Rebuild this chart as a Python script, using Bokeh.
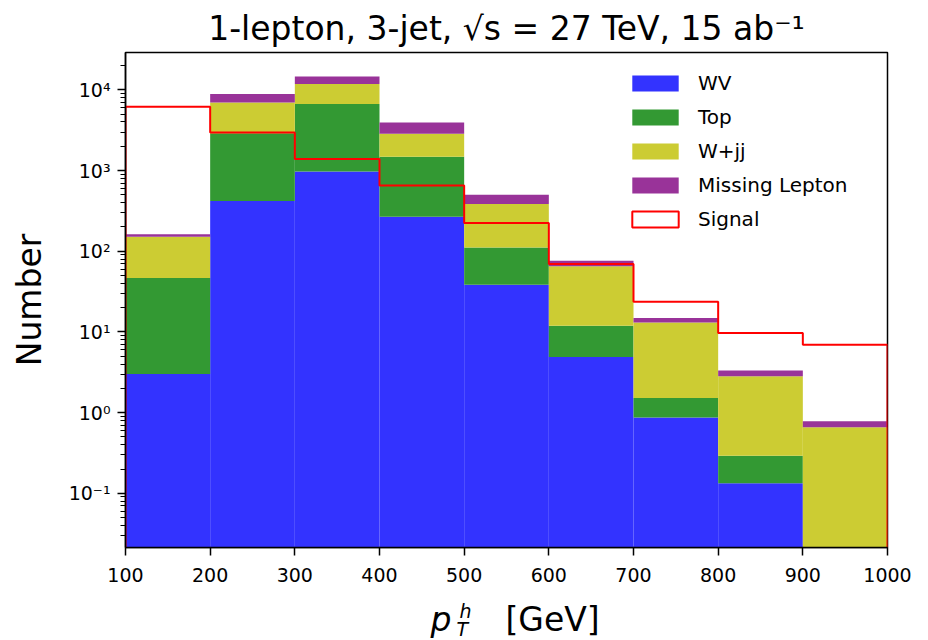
from bokeh.plotting import figure
from bokeh.layouts import column
from bokeh.models import (Range1d, FixedTicker, CustomJSTickFormatter, Label,
                          Legend, LegendItem, ColumnDataSource)
from bokeh.embed import file_html
from bokeh.resources import INLINE

# ---- data ----
bin_edges = [100, 200, 300, 400, 500, 600, 700, 800, 900, 1000]
wv = [3.0, 420, 975, 268, 38.5, 4.9, 0.87, 0.133, 0.0]
top = [43.6, 2480, 5675, 1212, 73, 7.0, 0.65, 0.16, 0.0]
wjj = [104, 4070, 5130, 1376, 272, 53, 11.6, 2.53, 0.658]
missing = [12, 1890, 2870, 1089, 117, 11.4, 1.8, 0.49, 0.122]
signal = [6150, 2960, 1390, 653, 224, 69.4, 23.7, 9.7, 6.95]

series_names = ["WV", "Top", "W+jj", "Missing Lepton"]
series_values = [wv, top, wjj, missing]
series_colors = ["#3333ff", "#339933", "#cccc33", "#993399"]

x_ticks = [100, 200, 300, 400, 500, 600, 700, 800, 900, 1000]
y_ticks = [0.1, 1, 10, 100, 1000, 10000]

Y_MIN, Y_MAX = 0.0213, 2.9e4
FLOOR = 1e-3
FONT = "DejaVu Sans"

p = figure(width=912, height=598, y_axis_type="log",
           x_range=Range1d(100, 1000), y_range=Range1d(Y_MIN, Y_MAX),
           output_backend="svg", toolbar_location=None,
           min_border_left=125, min_border_right=25,
           min_border_top=52, min_border_bottom=51)
p.background_fill_color = "white"
p.border_fill_color = "white"
p.xgrid.visible = False
p.ygrid.visible = False
p.outline_line_color = "black"
p.outline_line_width = 1.5

# title
p.title.text = "1-lepton, 3-jet, \u221as = 27 TeV, 15 ab\u207b\u00b9"
p.title.text_font = FONT
p.title.text_font_size = "33px"
p.title.text_font_style = "normal"
p.title.text_color = "black"
p.title.align = "center"
p.title.standoff = 9

# stacked histogram
cum = [0.0] * len(wv)
items = []
for name, vals, col in zip(series_names, series_values, series_colors):
    new_cum = [c + v for c, v in zip(cum, vals)]
    src = ColumnDataSource(dict(
        left=bin_edges[:-1], right=bin_edges[1:],
        bottom=[max(c, FLOOR) for c in cum],
        top=[max(c, FLOOR) for c in new_cum]))
    r = p.quad(left="left", right="right", bottom="bottom", top="top",
               source=src, fill_color=col, line_color=None)
    items.append(LegendItem(label=name, renderers=[r]))
    cum = new_cum

# signal step outline
sx = [bin_edges[0]]
sy = [FLOOR]
for i, s in enumerate(signal):
    sx += [bin_edges[i], bin_edges[i + 1]]
    sy += [s, s]
sx.append(bin_edges[-1])
sy.append(FLOOR)
p.line(sx, sy, line_color="red", line_width=2)

# zero-size legend proxy for the signal outline (sits below the visible range)
proxy = p.quad(left=[bin_edges[0]], right=[bin_edges[0]], bottom=[FLOOR], top=[FLOOR],
               fill_color="white", line_color="red", line_width=2)
items.append(LegendItem(label="Signal", renderers=[proxy]))

legend = Legend(items=items, location=(501, 316), orientation="vertical",
                padding=0, margin=0, border_line_color=None,
                background_fill_alpha=0, glyph_width=58, glyph_height=20,
                label_height=20, spacing=10, label_standoff=14,
                label_text_font_size="20px", label_text_font=FONT,
                label_text_color="black")
p.add_layout(legend)

# axes
minor = []
for d in range(-2, 5):
    for m in range(2, 10):
        v = m * 10.0 ** d
        if Y_MIN <= v <= Y_MAX:
            minor.append(v)
p.yaxis.ticker = FixedTicker(ticks=y_ticks, minor_ticks=minor)
p.yaxis.formatter = CustomJSTickFormatter(code="""
const sup = {"-": "\u207b", "0": "\u2070", "1": "\u00b9", "2": "\u00b2", "3": "\u00b3",
             "4": "\u2074", "5": "\u2075", "6": "\u2076", "7": "\u2077", "8": "\u2078", "9": "\u2079"};
const e = Math.round(Math.log10(tick));
return "10" + String(e).split("").map(c => sup[c]).join("");
""")
p.xaxis.ticker = FixedTicker(ticks=x_ticks, minor_ticks=[])

for ax in (p.xaxis, p.yaxis):
    ax.axis_line_color = "black"
    ax.axis_line_width = 1.5
    ax.major_tick_line_color = "black"
    ax.major_tick_line_width = 1.5
    ax.minor_tick_line_color = "black"
    ax.minor_tick_line_width = 1.1
    ax.major_tick_in = 0
    ax.major_tick_out = 8
    ax.minor_tick_in = 0
    ax.minor_tick_out = 5
    ax.major_label_text_font = FONT
    ax.major_label_text_font_size = "19px"
    ax.major_label_text_color = "black"

p.xaxis.major_label_standoff = 12
p.yaxis.major_label_standoff = 7
p.yaxis.axis_label = "Number"
p.yaxis.axis_label_text_font = FONT
p.yaxis.axis_label_text_font_size = "33px"
p.yaxis.axis_label_text_font_style = "normal"
p.yaxis.axis_label_text_color = "black"
p.yaxis.axis_label_standoff = 17

# x-axis label  p_T^h [GeV]  drawn in a thin strip below the plot,
# whose frame lines up with the main plot's frame
q = figure(width=912, height=42, x_axis_type=None, y_axis_type=None,
           x_range=Range1d(0, 1), y_range=Range1d(0, 1),
           output_backend="svg", toolbar_location=None,
           min_border_left=125, min_border_right=25,
           min_border_top=0, min_border_bottom=0)
q.outline_line_color = None
q.background_fill_color = "white"
q.border_fill_color = "white"
q.xgrid.visible = False
q.ygrid.visible = False


def lab(text, x, y, size, style):
    q.add_layout(Label(x=x, y=y, x_units="screen", y_units="screen", text=text,
                       text_font=FONT, text_font_size=size, text_font_style=style,
                       text_baseline="alphabetic", text_align="left",
                       text_color="black"))


lab("p", 305, 21, "33px", "italic")
lab("h", 334, 30, "19px", "italic")
lab("T", 331, 12, "19px", "italic")
lab("[GeV]", 380, 21, "33px", "normal")

layout = column(p, q, spacing=0)
open("out.html", "w").write(file_html(layout, INLINE))
